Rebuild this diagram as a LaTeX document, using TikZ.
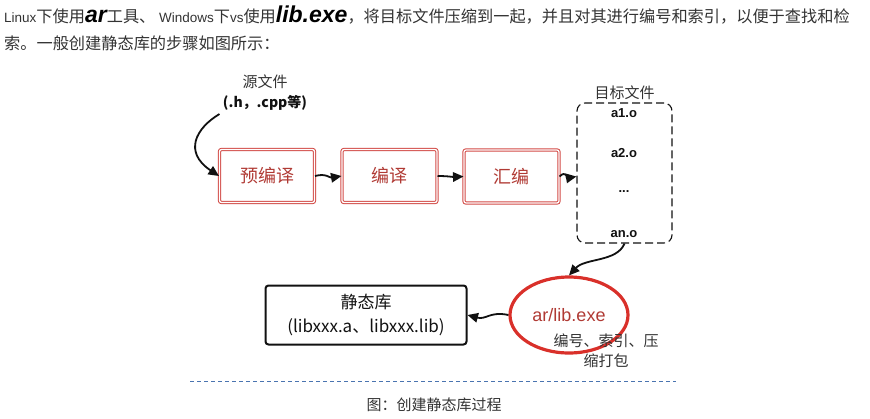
\documentclass[tikz,border=0pt]{standalone}
\usepackage{fontspec}
\setmainfont{Noto Sans CJK SC}
\newfontfamily\arialfont{Liberation Sans}
\usepackage{tikz}
\usetikzlibrary{arrows.meta,positioning,shapes.geometric}
\definecolor{skInk}{HTML}{111111}
\definecolor{skRed}{HTML}{D24A45}
\definecolor{skRedText}{HTML}{B03A34}
\definecolor{skRing}{HTML}{D9302A}
\definecolor{skBlue}{HTML}{4A74B0}
\definecolor{skGray}{HTML}{333333}
\newcommand{\bigit}[1]{{\arialfont\bfseries\itshape\fontsize{23}{24}\selectfont\textcolor{black}{#1}}}
\newcommand{\smlat}[1]{{\arialfont\fontsize{13.5}{16}\selectfont #1}}
\tikzset{
  % Red stage box (double sketch border)
  stagebox/.style={rectangle,rounded corners=2pt,
    minimum width=95pt,minimum height=53pt,
    draw=skRed,line width=1pt,double=white,double distance=1.3pt,
    font=\fontsize{18}{20}\selectfont,text=skRedText},
  % Dashed box for object files
  objbox/.style={rectangle,rounded corners=8pt,
    minimum width=95pt,minimum height=140pt,
    draw=skInk,line width=1.1pt,dash pattern=on 8pt off 4pt},
  % Object file entry
  objitem/.style={font=\arialfont\bfseries\fontsize{13}{15}\selectfont,text=skInk},
  % Library box (black, thick)
  libbox/.style={rectangle,rounded corners=3pt,
    minimum width=201pt,minimum height=59pt,
    draw=skInk,line width=2pt,align=center,
    font=\fontsize{17}{24}\selectfont,text=skInk},
  % Red ring
  ringnode/.style={ellipse,minimum width=118pt,minimum height=76pt,
    draw=skRing,line width=3.2pt,
    font=\arialfont\fontsize{18}{20}\selectfont,text=skRedText},
  % Plain labels
  lbl/.style={font=\fontsize{15}{20}\selectfont,text=skGray,align=center},
  intro/.style={anchor=west,inner sep=0pt,font=\fontsize{16.2}{18}\selectfont,text=skGray},
  % Arrows
  arr/.style={-{Triangle[length=10.5pt,width=9.5pt]},line width=1.8pt,draw=skInk},
  sepline/.style={draw=skBlue,line width=1pt,dash pattern=on 4pt off 3pt},
}

\begin{document}
\begin{tikzpicture}[x=1pt,y=-1pt]
  \useasboundingbox (0,0) rectangle (870,418);

  % Intro text
  \node[intro] (intro1) at (4,15)
    {\smlat{Linux}下使用\bigit{ar}工具、 \smlat{Windows}下\smlat{vs}使用\bigit{lib.exe}，将目标文件压缩到一起，并且对其进行编号和索引，以便于查找和检};
  \node[intro] (intro2) at (4,43) {索。一般创建静态库的步骤如图所示：};

  % Source files
  \node[lbl] (src) at (265,82) {源文件};
  \node[font=\bfseries\fontsize{14}{16}\selectfont,text=skInk] (srcext) at (265,103) {(.h，.cpp等)};

  % Stages
  \node[stagebox] (pre) at (267,176) {预编译};
  \node[stagebox] (cmp) at (389.5,176) {编译};
  \node[stagebox] (asm) at (511.5,176.5) {汇编};

  % Object files
  \node[objbox] (obj) at (624.5,173) {};
  \node[lbl,above=-1pt of obj.north] (objlbl) {目标文件};
  \node[objitem] (a1) at (624,113) {a1.o};
  \node[objitem] (a2) at (624,153) {a2.o};
  \node[objitem] (adots) at (624,192) {...};
  \node[objitem] (an) at (624,234) {an.o};

  % Archiver
  \node[ringnode] (arlib) at (569,315) {ar/lib.exe};
  \node[lbl] (desc) at (606,351) {编号、索引、压\\缩打包};

  % Static library
  \node[libbox] (lib) at (366,315) {静态库\\(libxxx.a、libxxx.lib)};

  % Connectors
  \draw[arr] (srcext.south west) .. controls (196,128) and (183,152) .. (pre.west);
  \draw[arr] (pre.east) .. controls (326,173) and (330,178) .. (cmp.west);
  \draw[arr] (cmp.east) .. controls (448,176) and (452,177) .. (asm.west);
  \draw[arr] (asm.east) .. controls (566,170) and (568,178) .. (obj.west |- asm.east);
  \draw[arr] (obj.south) .. controls (617,262) and (585,258) .. (arlib.north);
  \draw[arr] (arlib.west) .. controls (490,311) and (486,320) .. (lib.east);

  % Caption
  \coordinate (sepL) at (190,381);
  \coordinate (sepR) at (676,381);
  \draw[sepline] (sepL) -- (sepR);
  \node[lbl] (cap) at (434,405) {图：创建静态库过程};
\end{tikzpicture}
\end{document}
